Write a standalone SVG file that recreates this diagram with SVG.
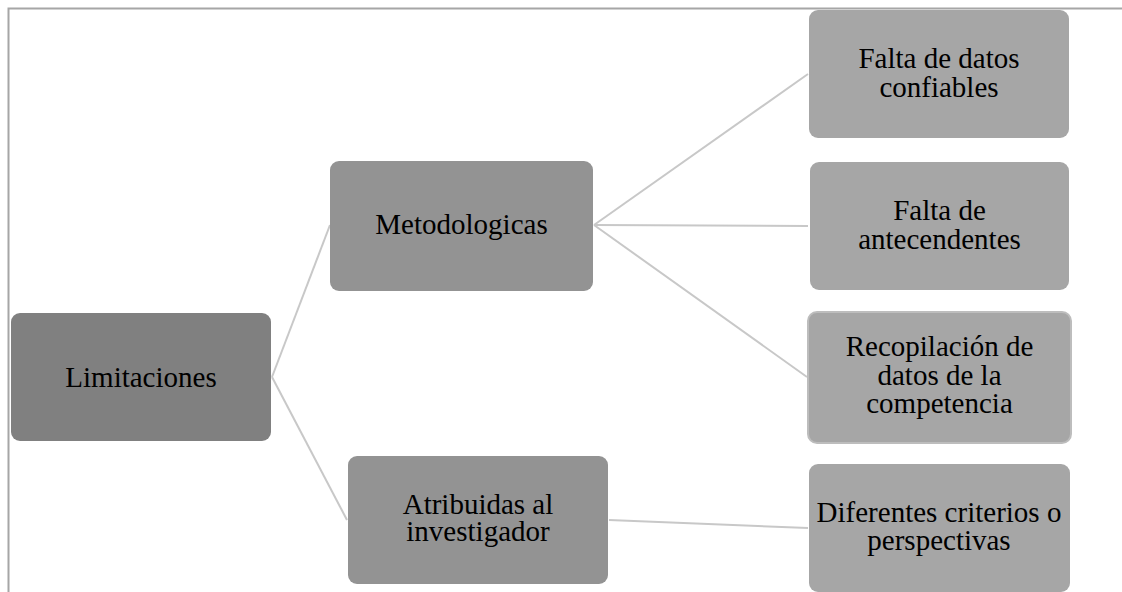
<svg xmlns="http://www.w3.org/2000/svg" width="1122" height="592" viewBox="0 0 1122 592">
<style>
.frame{stroke:#a6a6a6;stroke-width:2;fill:none}
.c{stroke:#c8c8c8;stroke-width:2;fill:none}
text{font-family:"Liberation Serif","Times New Roman",serif;font-size:29px;fill:#000;text-anchor:middle}
.l0{fill:#808080}
.l1{fill:#939393}
.l2{fill:#a6a6a6}
</style>
<rect width="1122" height="592" fill="#fff"/>
<path class="frame" d="M8.5 592 V8.5 H1122"/>
<g id="connectors">
<line class="c" x1="272" y1="377" x2="330" y2="225"/>
<line class="c" x1="272" y1="377" x2="347" y2="520"/>
<line class="c" x1="594" y1="225" x2="808" y2="74"/>
<line class="c" x1="594" y1="225" x2="808" y2="226"/>
<line class="c" x1="594" y1="225" x2="807" y2="377"/>
<line class="c" x1="609" y1="520" x2="808" y2="528"/>
</g>
<g id="limitaciones">
<rect class="l0" x="11" y="313" width="260" height="128" rx="9"/>
<text x="141" y="387">Limitaciones</text>
</g>
<g id="metodologicas">
<rect class="l1" x="330" y="161" width="263" height="130" rx="9"/>
<text x="461.5" y="234">Metodologicas</text>
</g>
<g id="atribuidas">
<rect class="l1" x="348" y="456" width="260" height="128" rx="9"/>
<text x="478" y="514">Atribuidas al</text>
<text x="478" y="541">investigador</text>
</g>
<g id="falta-datos">
<rect class="l2" x="809" y="10" width="260" height="128" rx="9"/>
<text x="939" y="68">Falta de datos</text>
<text x="939" y="97">confiables</text>
</g>
<g id="falta-antecedentes">
<rect class="l2" x="810" y="162" width="259" height="128" rx="9"/>
<text x="939.5" y="219.5">Falta de</text>
<text x="939.5" y="248.5">antecendentes</text>
</g>
<g id="recopilacion">
<rect class="l2" x="808" y="312" width="263" height="131" rx="9" stroke="#bdbdbd" stroke-width="2"/>
<text x="939.5" y="356">Recopilación de</text>
<text x="939.5" y="384.5">datos de la</text>
<text x="939.5" y="413">competencia</text>
</g>
<g id="diferentes">
<rect class="l2" x="809" y="464" width="261" height="128" rx="9"/>
<text x="939" y="522">Diferentes criterios o</text>
<text x="939" y="550">perspectivas</text>
</g>
</svg>
